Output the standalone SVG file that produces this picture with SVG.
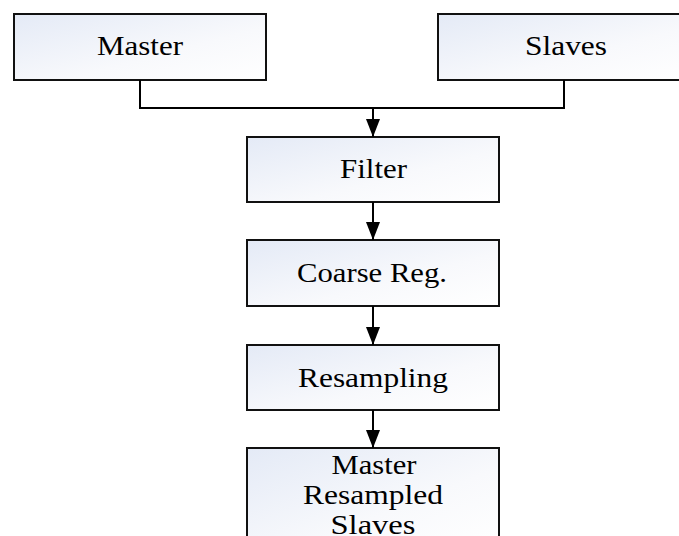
<svg xmlns="http://www.w3.org/2000/svg" width="679" height="536" viewBox="0 0 679 536">
<defs>
<linearGradient id="g" x1="0" y1="0" x2="1" y2="1">
<stop offset="0" stop-color="#e4eaf6"/>
<stop offset="0.6" stop-color="#f8f9fc"/>
<stop offset="1" stop-color="#ffffff"/>
</linearGradient>
<marker id="ah" markerWidth="18" markerHeight="14" refX="18" refY="7" orient="auto" markerUnits="userSpaceOnUse">
<path d="M0,0 L18,7 L0,14 Z" fill="#000"/>
</marker>
<style>
.box{fill:url(#g);stroke:#111;stroke-width:2}
.t{font-family:'Times New Roman',Times,'Liberation Serif',serif;font-size:27px;fill:#000;text-anchor:middle}
.c{fill:none;stroke:#000;stroke-width:2}
</style>
</defs>
<rect width="679" height="536" fill="#fff"/>
<g id="master">
<rect class="box" x="14" y="14" width="252" height="66"/>
<text class="t" x="140" y="55" textLength="86" lengthAdjust="spacingAndGlyphs">Master</text>
</g>
<g id="slaves">
<rect class="box" x="438" y="14" width="252" height="66"/>
<text class="t" x="566" y="55" textLength="82" lengthAdjust="spacingAndGlyphs">Slaves</text>
</g>
<g id="filter">
<rect class="box" x="247" y="137" width="252" height="65"/>
<text class="t" x="373.5" y="178" textLength="67" lengthAdjust="spacingAndGlyphs">Filter</text>
</g>
<g id="coarse">
<rect class="box" x="247" y="240" width="252" height="66"/>
<text class="t" x="372" y="282" textLength="150" lengthAdjust="spacingAndGlyphs">Coarse Reg.</text>
</g>
<g id="resampling">
<rect class="box" x="247" y="345" width="252" height="65"/>
<text class="t" x="373" y="387" textLength="150" lengthAdjust="spacingAndGlyphs">Resampling</text>
</g>
<g id="output">
<rect class="box" x="247" y="448" width="252" height="100"/>
<text class="t" x="374" y="474" textLength="85" lengthAdjust="spacingAndGlyphs">Master</text>
<text class="t" x="373" y="504" textLength="140" lengthAdjust="spacingAndGlyphs">Resampled</text>
<text class="t" x="373" y="534" textLength="85" lengthAdjust="spacingAndGlyphs">Slaves</text>
</g>
<g id="connectors">
<path class="c" d="M140,80 V108 H564 V80"/>
<path class="c" d="M373,108 V137" marker-end="url(#ah)"/>
<path class="c" d="M373,202 V240" marker-end="url(#ah)"/>
<path class="c" d="M373,306 V345" marker-end="url(#ah)"/>
<path class="c" d="M373,410 V448" marker-end="url(#ah)"/>
</g>
</svg>
